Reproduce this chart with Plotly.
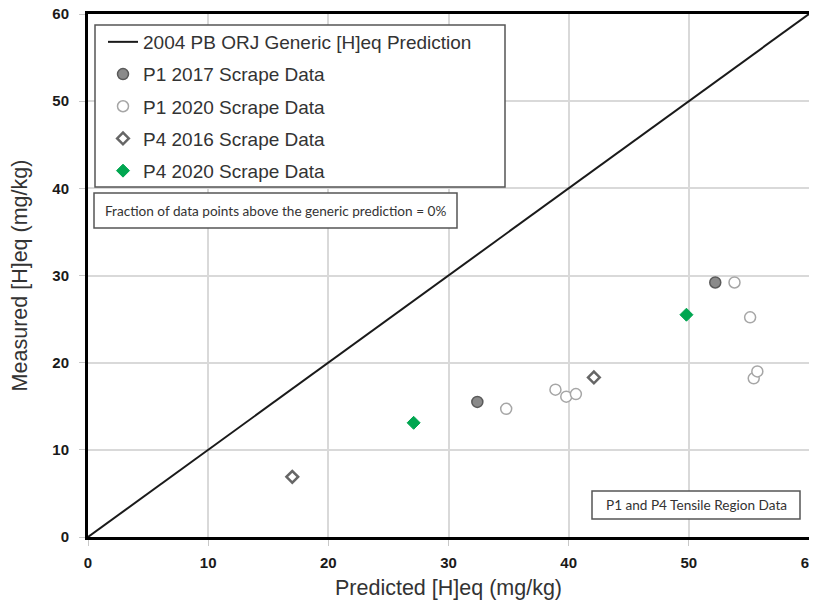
import plotly.graph_objects as go

# Data
pred_line_x = [0, 60]
pred_line_y = [0, 60]

p1_2017_x = [32.4, 52.2]
p1_2017_y = [15.5, 29.2]

p1_2020_x = [34.8, 38.9, 39.8, 40.6, 53.8, 55.1, 55.4, 55.7]
p1_2020_y = [14.7, 16.9, 16.1, 16.4, 29.2, 25.2, 18.2, 19.0]

p4_2016_x = [17.0, 42.1]
p4_2016_y = [6.9, 18.3]

p4_2020_x = [27.1, 49.8]
p4_2020_y = [13.1, 25.5]

ticks = [0, 10, 20, 30, 40, 50, 60]

# page body has an 8px margin, so the figure is offset by 8px
OFF = 8
W, H = 817 - OFF, 607 - OFF
L, T = 88 - OFF, 14 - OFF
R = W - (809 - OFF)
B = H - (537 - OFF)
PW, PH = W - L - R, H - T - B


def px(xs):
    return (xs - OFF - L) / PW


def py(ys):
    return (H - B - (ys - OFF)) / PH


fig = go.Figure()
fig.add_trace(go.Scatter(x=pred_line_x, y=pred_line_y, mode="lines",
                         line=dict(color="#1a1a1a", width=2),
                         name="2004 PB ORJ Generic [H]eq Prediction", legendgroup="a"))
fig.add_trace(go.Scatter(x=p1_2017_x, y=p1_2017_y, mode="markers",
                         marker=dict(symbol="circle", size=11, color="#8a8a8a",
                                     line=dict(color="#5a5a5a", width=1.5)),
                         name="P1 2017 Scrape Data", legendgroup="b"))
fig.add_trace(go.Scatter(x=p1_2020_x, y=p1_2020_y, mode="markers",
                         marker=dict(symbol="circle", size=11, color="white",
                                     line=dict(color="#a6a6a6", width=1.5)),
                         name="P1 2020 Scrape Data", legendgroup="c"))
fig.add_trace(go.Scatter(x=p4_2016_x, y=p4_2016_y, mode="markers",
                         marker=dict(symbol="diamond", size=9, color="white",
                                     line=dict(color="#666666", width=2.5)),
                         name="P4 2016 Scrape Data", legendgroup="d"))
fig.add_trace(go.Scatter(x=p4_2020_x, y=p4_2020_y, mode="markers",
                         marker=dict(symbol="diamond", size=10, color="#00a650",
                                     line=dict(color="#00a650", width=1)),
                         name="P4 2020 Scrape Data", legendgroup="e"))

axis_common = dict(
    range=[0, 60], tickvals=ticks, showgrid=True, gridcolor="#d9d9d9", gridwidth=2,
    showline=True, linecolor="black", linewidth=3, mirror=True, zeroline=False,
    ticks="outside", ticklen=6, tickcolor="#c8c8c8", automargin=False,
    ticklabeloverflow="allow",
    tickfont=dict(family="Liberation Sans, Arial", size=15, color="#1a1a1a", weight="bold"),
)

fig.update_layout(
    width=W, height=H,
    margin=dict(l=L, r=R, t=T, b=B, autoexpand=False),
    plot_bgcolor="white", paper_bgcolor="white",
    font=dict(family="Liberation Sans, Arial", color="#1a1a1a"),
    xaxis=dict(**axis_common, ticklabelstandoff=4,
               title=dict(text="Predicted [H]eq (mg/kg)",
                          font=dict(size=21.5, color="#333333"), standoff=10)),
    yaxis=dict(**axis_common, ticklabelstandoff=7,
               title=dict(text="Measured [H]eq (mg/kg)",
                          font=dict(size=21.5, color="#333333"), standoff=24)),
    legend=dict(x=px(103), y=py(23), xanchor="left", yanchor="top",
                bgcolor="rgba(0,0,0,0)", borderwidth=0,
                font=dict(size=19, color="#333333"), tracegroupgap=4.5,
                itemwidth=30),
    showlegend=True,
    shapes=[
        dict(type="rect", xref="paper", yref="paper",
             x0=px(95), x1=px(505), y0=py(187), y1=py(25),
             line=dict(color="#555555", width=1.5), fillcolor="white", layer="above"),
        dict(type="rect", xref="paper", yref="paper",
             x0=px(94), x1=px(457), y0=py(228), y1=py(193),
             line=dict(color="#555555", width=1.5), fillcolor="white", layer="above"),
        dict(type="rect", xref="paper", yref="paper",
             x0=px(592), x1=px(800), y0=py(519), y1=py(491),
             line=dict(color="#555555", width=1.5), fillcolor="white", layer="above"),
    ],
    annotations=[
        dict(text="Fraction of data points above the generic prediction = 0%",
             xref="paper", yref="paper", x=px(103), y=py(210.5), xanchor="left", yanchor="middle",
             showarrow=False, font=dict(family="Lato, Liberation Sans", size=13.6, color="#333333")),
        dict(text="P1 and P4 Tensile Region Data",
             xref="paper", yref="paper", x=px(604), y=py(505), xanchor="left", yanchor="middle",
             showarrow=False, font=dict(family="Lato, Liberation Sans", size=13.6, color="#333333")),
    ],
)

fig.write_html("out.html")
